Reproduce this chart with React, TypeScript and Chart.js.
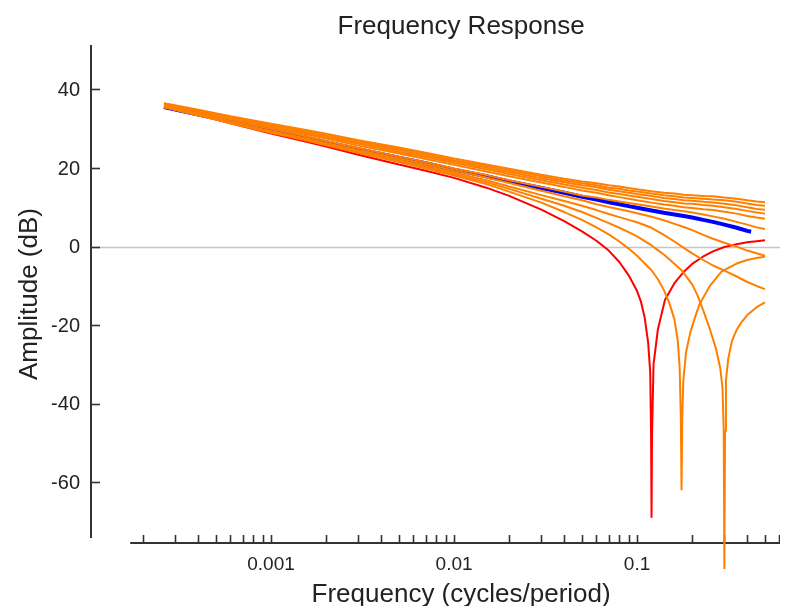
import { useEffect, useRef } from "react";
import { Chart, registerables } from "chart.js";

Chart.register(...registerables);

// ---------- data (frequency in cycles/period, amplitude in dB) ----------
const freq = [
  0.00026, 0.0004, 0.0006, 0.001, 0.0015, 0.002, 0.003, 0.005, 0.007, 0.01,
  0.015, 0.02, 0.03, 0.04, 0.05, 0.06, 0.07, 0.08, 0.09, 0.1,
  0.12, 0.14, 0.16, 0.18, 0.2, 0.23, 0.26, 0.3, 0.35, 0.4, 0.45, 0.5,
];

const upper1 = [36.5, 34.8, 33.2, 31.3, 29.8, 28.7, 27.1, 25.2, 23.9, 22.4, 20.9, 19.8, 18.3, 17.3, 16.6, 16.1, 15.6, 15.3, 14.9, 14.6, 14.1, 13.7, 13.5, 13.2, 13.1, 12.9, 12.8, 12.5, 12.2, 11.8, 11.5, 11.3];
const upper2 = [36.4, 34.6, 33.0, 31.1, 29.6, 28.4, 26.8, 24.9, 23.6, 22.0, 20.5, 19.4, 17.9, 16.8, 16.1, 15.6, 15.0, 14.7, 14.3, 14.0, 13.5, 13.1, 12.8, 12.5, 12.4, 12.2, 12.0, 11.8, 11.4, 11.0, 10.6, 10.4];
const upper3 = [36.2, 34.5, 32.8, 30.9, 29.3, 28.2, 26.5, 24.5, 23.2, 21.7, 20.1, 19.0, 17.4, 16.4, 15.6, 15.1, 14.5, 14.1, 13.7, 13.4, 12.9, 12.4, 12.1, 11.8, 11.7, 11.4, 11.2, 10.9, 10.5, 10.0, 9.6, 9.4];
const upper4 = [36.1, 34.3, 32.6, 30.6, 29.0, 27.8, 26.2, 24.1, 22.8, 21.3, 19.7, 18.5, 16.9, 15.8, 15.0, 14.4, 13.8, 13.4, 13.0, 12.7, 12.1, 11.6, 11.3, 11.0, 10.9, 10.6, 10.4, 10.0, 9.6, 9.1, 8.7, 8.4];
const upper5 = [35.9, 34.1, 32.4, 30.3, 28.7, 27.5, 25.7, 23.7, 22.3, 20.8, 19.1, 17.9, 16.3, 15.2, 14.3, 13.7, 13.1, 12.6, 12.2, 11.8, 11.2, 10.7, 10.4, 10.0, 9.8, 9.5, 9.3, 8.9, 8.4, 7.8, 7.4, 7.1];
const upper6 = [35.6, 33.8, 32.0, 29.9, 28.2, 26.9, 25.1, 22.9, 21.5, 19.9, 18.2, 16.9, 15.2, 14.0, 13.0, 12.5, 11.9, 11.5, 11.1, 10.8, 10.2, 9.7, 9.3, 9.0, 8.7, 8.2, 7.7, 7.1, 6.3, 5.6, 4.9, 4.5];
const lower1 = [35.5, 33.4, 31.6, 29.4, 27.7, 26.4, 24.6, 22.4, 21.0, 19.4, 17.6, 16.2, 14.2, 12.8, 11.8, 10.8, 10.1, 9.5, 9.0, 8.5, 7.6, 6.7, 5.8, 5.0, 4.2, 3.0, 2.0, 1.0, 0.0, -1.0, -1.7, -2.3];
const lower2 = [35.5, 33.4, 31.5, 29.2, 27.5, 26.1, 24.3, 22.0, 20.5, 18.9, 16.9, 15.3, 13.1, 11.6, 10.4, 9.3, 8.3, 7.5, 6.8, 6.2, 4.8, 3.0, 1.3, -0.3, -1.7, -3.4, -4.8, -6.1, -7.6, -9.0, -10.0, -10.8];

const notch2Freq = [
  0.00026, 0.0004, 0.0006, 0.001, 0.0015, 0.002, 0.003, 0.005, 0.007, 0.01,
  0.015, 0.02, 0.03, 0.04, 0.05, 0.06, 0.07, 0.08, 0.09, 0.1,
  0.12, 0.13, 0.14, 0.15, 0.16, 0.167, 0.171, 0.1735, 0.175, 0.1765,
  0.179, 0.185, 0.195, 0.205, 0.22, 0.25, 0.29, 0.35, 0.4, 0.45, 0.5,
];
const notch2Db = [
  35.5, 33.5, 31.4, 29.0, 27.2, 25.8, 23.9, 21.5, 19.9, 18.1,
  15.9, 14.0, 11.2, 8.8, 6.8, 4.9, 3.1, 1.3, -0.5, -2.3,
  -6.0, -8.3, -11.0, -14.3, -18.5, -24, -31, -44, -62, -44,
  -34, -27, -22, -18.7, -14.5, -10.0, -6.3, -4.3, -3.4, -2.9, -2.6,
];

const notch3Freq = [
  0.00026, 0.0004, 0.0006, 0.001, 0.0015, 0.002, 0.003, 0.005, 0.007, 0.01,
  0.015, 0.02, 0.03, 0.04, 0.05, 0.06, 0.07, 0.08, 0.09, 0.1,
  0.12, 0.13, 0.14, 0.15, 0.175, 0.2, 0.214, 0.23, 0.25, 0.27,
  0.285, 0.293, 0.2975, 0.3, 0.3025, 0.306, 0.315, 0.33, 0.35, 0.37,
  0.4, 0.45, 0.5,
];
const notch3Db = [
  35.5, 33.5, 31.5, 29.1, 27.4, 26.0, 24.1, 21.8, 20.2, 18.5,
  16.4, 14.7, 12.2, 10.4, 8.8, 7.3, 6.0, 4.8, 3.7, 2.6,
  0.3, -0.9, -2.0, -3.2, -6.0, -9.6, -12.4, -16.2, -21.0, -26.0,
  -31, -36, -47, -82, -47, -34, -28.5, -24, -21.2, -19.4,
  -17.4, -15.4, -14.2,
];

const redFreq = [
  0.00026, 0.0004, 0.0006, 0.001, 0.0015, 0.002, 0.003, 0.005, 0.007, 0.01,
  0.015, 0.02, 0.03, 0.04, 0.05, 0.06, 0.07, 0.08, 0.09, 0.1,
  0.105, 0.11, 0.115, 0.118, 0.1193, 0.12, 0.1207, 0.123, 0.13, 0.142,
  0.16, 0.18, 0.2, 0.23, 0.26, 0.3, 0.35, 0.4, 0.45, 0.5,
];
const redDb = [
  35.6, 33.6, 31.4, 28.8, 26.9, 25.5, 23.4, 20.9, 19.3, 17.5,
  15.0, 12.9, 9.4, 6.5, 3.9, 1.5, -1.0, -3.9, -7.3, -11.3,
  -14.0, -18.0, -24.5, -32.0, -48, -69, -48, -30, -21, -13.6,
  -9.3, -6.4, -4.4, -2.5, -1.2, -0.1, 0.6, 1.1, 1.4, 1.6,
];

const blueFreq = [
  0.00026, 0.0004, 0.0006, 0.001, 0.0015, 0.002, 0.003, 0.005, 0.007, 0.01,
  0.015, 0.02, 0.03, 0.04, 0.05, 0.06, 0.07, 0.08, 0.09, 0.1,
  0.12, 0.14, 0.16, 0.18, 0.2, 0.23, 0.26, 0.3, 0.35, 0.4, 0.42,
];
const blueDb = [
  35.5, 33.6, 31.8, 29.6, 27.9, 26.6, 24.8, 22.6, 21.2, 19.6,
  17.9, 16.6, 14.9, 13.7, 12.7, 12.0, 11.3, 10.8, 10.3, 9.9,
  9.2, 8.6, 8.2, 7.8, 7.4, 6.8, 6.3, 5.6, 4.8, 4.0, 3.8,
];

const yTickValues = [-60, -40, -20, 0, 20, 40];
const xLabelValues = [0.001, 0.01, 0.1];
const xLabelTexts = ["0.001", "0.01", "0.1"];
const xMinorMantissas = [1, 2, 3, 4, 5, 6, 7, 8, 9];
const xMinorDecades = [0.0001, 0.001, 0.01, 0.1];

const titleText = "Frequency Response";
const xTitleText = "Frequency (cycles/period)";
const yTitleText = "Amplitude (dB)";

const ORANGE = "rgb(255,128,0)";
const RED = "rgb(255,0,0)";
const BLUE = "rgb(0,0,255)";
const FONT = '"Liberation Sans", Arial, sans-serif';
const TEXT = "#222";

function pts(xs: number[], ys: number[]) {
  return xs.map((x, i) => ({ x, y: ys[i] }));
}

const refAxes = {
  id: "refAxes",
  beforeDatasetsDraw(chart: any) {
    const { ctx, chartArea: a, scales } = chart;
    const x = scales.x;
    const y = scales.y;
    ctx.save();
    const seg = (x1: number, y1: number, x2: number, y2: number) => {
      ctx.beginPath();
      ctx.moveTo(x1, y1);
      ctx.lineTo(x2, y2);
      ctx.stroke();
    };
    // zero reference line
    const y0 = Math.round(y.getPixelForValue(0)) + 0.5;
    ctx.strokeStyle = "#c6c6c6";
    ctx.lineWidth = 1.5;
    seg(a.left, y0, a.right, y0);

    ctx.strokeStyle = "#333";
    ctx.lineWidth = 2;
    // y axis
    seg(a.left, a.top, a.left, a.bottom - 5);
    ctx.lineWidth = 1.6;
    yTickValues.forEach((v) => {
      const py = Math.round(y.getPixelForValue(v)) + 0.5;
      seg(a.left, py, a.left + 9, py);
    });
    // x axis
    ctx.lineWidth = 2;
    const xStart = x.getPixelForValue(0.00017);
    seg(xStart, a.bottom, a.right, a.bottom);
    ctx.lineWidth = 1.6;
    xMinorDecades.forEach((d) =>
      xMinorMantissas.forEach((m) => {
        const v = m * d;
        if (v < 0.00019 || v > 0.61) return;
        const px = Math.round(x.getPixelForValue(v)) + 0.5;
        seg(px, a.bottom, px, a.bottom - 8);
      })
    );
    ctx.restore();
  },
  afterDraw(chart: any) {
    const { ctx, chartArea: a, scales } = chart;
    const x = scales.x;
    const y = scales.y;
    ctx.save();
    ctx.fillStyle = TEXT;
    // y tick labels
    ctx.font = `20px ${FONT}`;
    ctx.textAlign = "right";
    ctx.textBaseline = "middle";
    yTickValues.forEach((v) => {
      ctx.fillText(String(v), a.left - 11, y.getPixelForValue(v) + 1);
    });
    // x tick labels
    ctx.font = `19px ${FONT}`;
    ctx.textAlign = "center";
    xLabelValues.forEach((v, i) => {
      ctx.fillText(xLabelTexts[i], x.getPixelForValue(v), a.bottom + 22);
    });
    // titles
    const xStart = x.getPixelForValue(0.00017);
    const cx = (xStart + a.right) / 2 + 6;
    ctx.font = `26px ${FONT}`;
    ctx.textBaseline = "alphabetic";
    ctx.fillText(titleText, cx, 26);
    ctx.fillText(xTitleText, cx, a.bottom + 59);
    ctx.translate(28.5, (a.top + a.bottom) / 2);
    ctx.rotate(-Math.PI / 2);
    ctx.fillText(yTitleText, 0, 0);
    ctx.restore();
  },
};

export default function App() {
  const ref = useRef<HTMLCanvasElement | null>(null);

  useEffect(() => {
    if (!ref.current) return;
    const line = (label: string, data: any[], color: string, width: number, order: number) => ({
      label,
      data,
      borderColor: color,
      backgroundColor: color,
      borderWidth: width,
      pointRadius: 0,
      pointHoverRadius: 0,
      tension: 0,
      fill: false,
      clip: false as const,
      borderJoinStyle: "bevel" as const,
      order,
    });
    const chart = new Chart(ref.current, {
      type: "line",
      data: {
        datasets: [
          line("upper1", pts(freq, upper1), ORANGE, 2, 1),
          line("upper2", pts(freq, upper2), ORANGE, 2, 1),
          line("upper3", pts(freq, upper3), ORANGE, 2, 1),
          line("upper4", pts(freq, upper4), ORANGE, 2, 1),
          line("upper5", pts(freq, upper5), ORANGE, 2, 1),
          line("upper6", pts(freq, upper6), ORANGE, 2, 1),
          line("lower1", pts(freq, lower1), ORANGE, 2, 1),
          line("lower2", pts(freq, lower2), ORANGE, 2, 1),
          line("notch2", pts(notch2Freq, notch2Db), ORANGE, 2, 1),
          line("notch3", pts(notch3Freq, notch3Db), ORANGE, 2, 1),
          line("red", pts(redFreq, redDb), RED, 2, 2),
          line("blue", pts(blueFreq, blueDb), BLUE, 4, 3),
        ],
      },
      options: {
        responsive: false,
        animation: false,
        parsing: true,
        layout: { padding: { left: 83, right: 0, top: 37, bottom: 63 } },
        plugins: {
          legend: { display: false },
          title: { display: false },
          tooltip: { enabled: false },
        },
        scales: {
          x: { type: "logarithmic", min: 0.0001038, max: 0.604, display: false },
          y: { type: "linear", min: -75.4, max: 51.3, display: false },
        },
      },
      plugins: [refAxes],
    });
    return () => chart.destroy();
  }, []);

  return (
    <canvas
      ref={ref}
      width={772}
      height={598}
      style={{ display: "block", width: 772, height: 598 }}
    />
  );
}
